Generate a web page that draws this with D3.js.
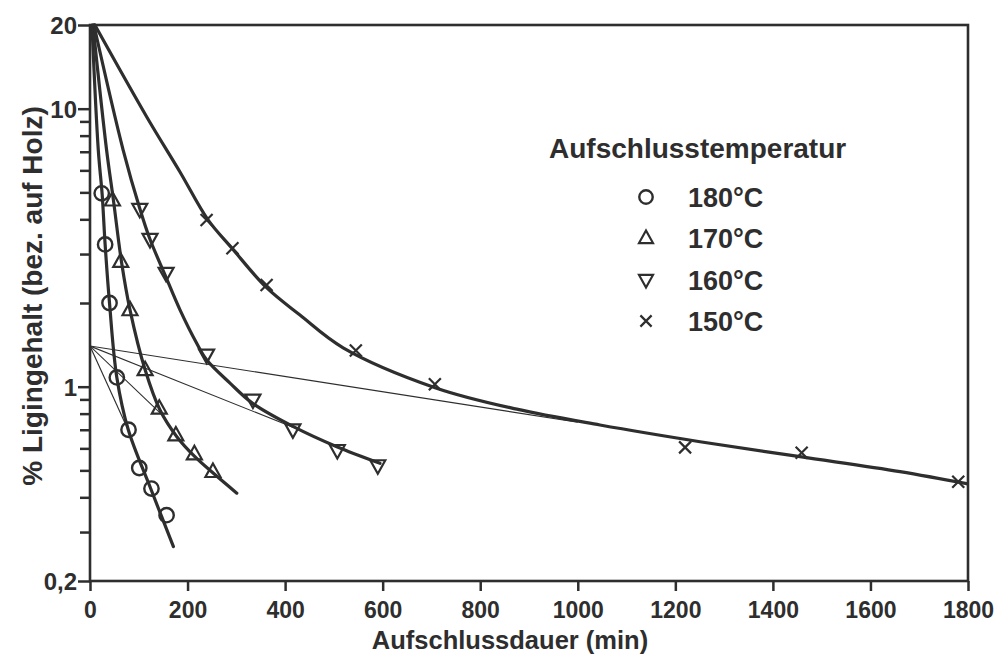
<!DOCTYPE html>
<html>
<head>
<meta charset="utf-8">
<script src="https://cdn.jsdelivr.net/npm/d3@7/dist/d3.min.js"></script>
<style>
  html, body { margin: 0; padding: 0; background: #ffffff; }
  svg { display: block; }
  text { font-family: Arial, "Liberation Sans", Helvetica, sans-serif; font-weight: bold; fill: #2e2e2e; }
</style>
</head>
<body>
<svg id="chart" width="999" height="657"></svg>
<script>
// Lignin content vs. cooking time, four cooking temperatures (log scale)

// measured points [time in min, lignin %]
const pts180 = [[24, 4.96], [31, 3.25], [40, 2.0], [55, 1.08], [79, 0.70], [101, 0.51], [126, 0.43], [157, 0.345]];
const pts170 = [[46, 4.69], [63, 2.82], [82, 1.89], [113, 1.15], [142, 0.836], [176, 0.67], [214, 0.573], [252, 0.495]];
const pts160 = [[102, 4.35], [123, 3.39], [156, 2.56], [239, 1.30], [334, 0.896], [416, 0.70], [507, 0.59], [590, 0.52]];
const pts150 = [[239, 3.98], [292, 3.15], [362, 2.32], [545, 1.35], [707, 1.02], [1220, 0.605], [1459, 0.579], [1780, 0.455]];

// fitted kinetic curves [time, lignin %]
const fit180 = [[4, 20], [17, 7.1], [25, 4.9], [31, 3.25], [40, 2.0], [55, 1.08], [78.5, 0.70], [124, 0.432], [171, 0.266]];
const fit170 = [[6, 20], [34, 7.1], [48, 4.69], [65, 2.78], [82, 1.89], [113, 1.15], [143.5, 0.824], [178, 0.661], [215, 0.56], [253, 0.488], [301, 0.414]];
const fit160 = [[8, 20], [68, 7.1], [102.5, 4.35], [123, 3.39], [154, 2.52], [184.5, 1.89], [219, 1.43], [239, 1.25], [287, 1.03], [333.5, 0.871], [417, 0.718], [506, 0.608], [594.5, 0.53]];
const fit150 = [[10, 20], [117, 9.3], [184.5, 5.92], [242, 3.98], [291, 3.15], [361, 2.28], [430.5, 1.81], [519, 1.38], [709, 0.99], [875, 0.83], [1045.5, 0.728], [1250.6, 0.634], [1455.6, 0.56], [1660.6, 0.495], [1800, 0.447]];

// slow (residual) delignification phase, extrapolated back to t = 0
const slow180 = [[0, 1.40], [78, 0.70]];
const slow170 = [[0, 1.40], [150, 0.785]];
const slow160 = [[0, 1.40], [420, 0.71]];
const slow150 = [[0, 1.40], [1000, 0.745]];

const seriesLabels = ["180°C", "170°C", "160°C", "150°C"];
const seriesSymbols = ["circle", "up", "down", "cross"];
const legendTitle = "Aufschlusstemperatur";

const xTicks = [0, 200, 400, 600, 800, 1000, 1200, 1400, 1600, 1800];
const yMajor = [0.2, 1, 10, 20];
const yMajorLabels = ["0,2", "1", "10", "20"];
const yMinor = [0.3, 0.4, 0.5, 0.6, 0.7, 0.8, 0.9, 2, 3, 4, 5, 6, 7, 8, 9];

const xTitle = "Aufschlussdauer (min)";
const yTitle = "% Ligingehalt (bez. auf Holz)";

const ink = "#2e2e2e";
const svg = d3.select("#chart");
const plotL = 90, plotR = 968, plotT = 25, plotB = 581;

const x = d3.scaleLinear().domain([0, 1800]).range([plotL, plotR]);
const y = d3.scaleLog().domain([0.2, 20]).range([plotB, plotT]);

// clip for the plotting region
svg.append("clipPath").attr("id", "plotClip")
  .append("rect").attr("x", plotL).attr("y", plotT - 2).attr("width", plotR - plotL).attr("height", plotB - plotT + 2);

// axes
const xAxis = d3.axisBottom(x).tickValues(xTicks).tickSize(10).tickFormat(d3.format("d"));
const gx = svg.append("g").attr("transform", `translate(0,${plotB})`).call(xAxis);
gx.select(".domain").remove();
gx.selectAll(".tick line").attr("stroke", ink).attr("stroke-width", 2.5);
gx.selectAll(".tick text").attr("font-size", 23).attr("dy", 0).attr("y", 37).attr("fill", ink).attr("font-family", null);

const yAxisMajor = d3.axisLeft(y).tickValues(yMajor).tickSize(12).tickFormat((d, i) => yMajorLabels[i]);
const gy = svg.append("g").attr("transform", `translate(${plotL},0)`).call(yAxisMajor);
gy.select(".domain").remove();
gy.selectAll(".tick line").attr("stroke", ink).attr("stroke-width", 2.5);
gy.selectAll(".tick text").attr("font-size", 24).attr("x", -13).attr("dy", "0.36em").attr("fill", ink).attr("font-family", null);

const yAxisMinor = d3.axisLeft(y).tickValues(yMinor).tickSize(10).tickFormat("");
const gym = svg.append("g").attr("transform", `translate(${plotL},0)`).call(yAxisMinor);
gym.select(".domain").remove();
gym.selectAll(".tick line").attr("stroke", ink).attr("stroke-width", 2.5);

// frame
svg.append("rect")
  .attr("x", plotL).attr("y", plotT).attr("width", plotR - plotL).attr("height", plotB - plotT)
  .attr("fill", "none").attr("stroke", ink).attr("stroke-width", 2.6);

// axis titles
svg.append("text").attr("x", 510).attr("y", 649).attr("text-anchor", "middle")
  .attr("font-size", 25.5).text(xTitle);
svg.append("text").attr("transform", "translate(42,296) rotate(-90)").attr("text-anchor", "middle")
  .attr("font-size", 28).text(yTitle);

// curves
const line = d3.line().x(d => x(d[0])).y(d => y(d[1])).curve(d3.curveCatmullRom.alpha(0.5));
const straight = d3.line().x(d => x(d[0])).y(d => y(d[1]));
const plot = svg.append("g").attr("clip-path", "url(#plotClip)");

[slow180, slow170, slow160, slow150].forEach(s => {
  plot.append("path").attr("d", straight(s)).attr("fill", "none")
    .attr("stroke", ink).attr("stroke-width", 1.1);
});
[fit180, fit170, fit160, fit150].forEach(s => {
  plot.append("path").attr("d", line(s)).attr("fill", "none")
    .attr("stroke", ink).attr("stroke-width", 3.2).attr("stroke-linecap", "round");
});

// markers
function drawSymbol(g, kind, cx, cy, s) {
  if (kind === "circle") {
    g.append("circle").attr("cx", cx).attr("cy", cy).attr("r", s * 0.48)
      .attr("fill", "none").attr("stroke", ink).attr("stroke-width", 2.4);
  } else if (kind === "up" || kind === "down") {
    const h = s * 0.9, w = s;
    const sgn = kind === "up" ? 1 : -1;
    const pts = [[cx, cy - sgn * h * 0.6], [cx - w / 2, cy + sgn * h * 0.4], [cx + w / 2, cy + sgn * h * 0.4]];
    g.append("path").attr("d", "M" + pts.map(p => p.join(",")).join("L") + "Z")
      .attr("fill", "none").attr("stroke", ink).attr("stroke-width", 2.2).attr("stroke-linejoin", "miter");
  } else {
    const r = s * 0.4;
    g.append("path").attr("d", `M${cx - r},${cy - r}L${cx + r},${cy + r}M${cx - r},${cy + r}L${cx + r},${cy - r}`)
      .attr("stroke", ink).attr("stroke-width", 2.2);
  }
}

const allPts = [pts180, pts170, pts160, pts150];
allPts.forEach((arr, i) => {
  const g = svg.append("g");
  arr.forEach(d => drawSymbol(g, seriesSymbols[i], x(d[0]), y(d[1]), 15));
});

// legend
const lg = svg.append("g");
lg.append("text").attr("x", 549).attr("y", 158).attr("font-size", 28).text(legendTitle);
const rowY = [197, 238, 280, 321];
seriesLabels.forEach((lab, i) => {
  drawSymbol(lg, seriesSymbols[i], 646, rowY[i], 14);
  lg.append("text").attr("x", 688).attr("y", rowY[i] + 10).attr("font-size", 27).text(lab);
});
</script>
</body>
</html>
